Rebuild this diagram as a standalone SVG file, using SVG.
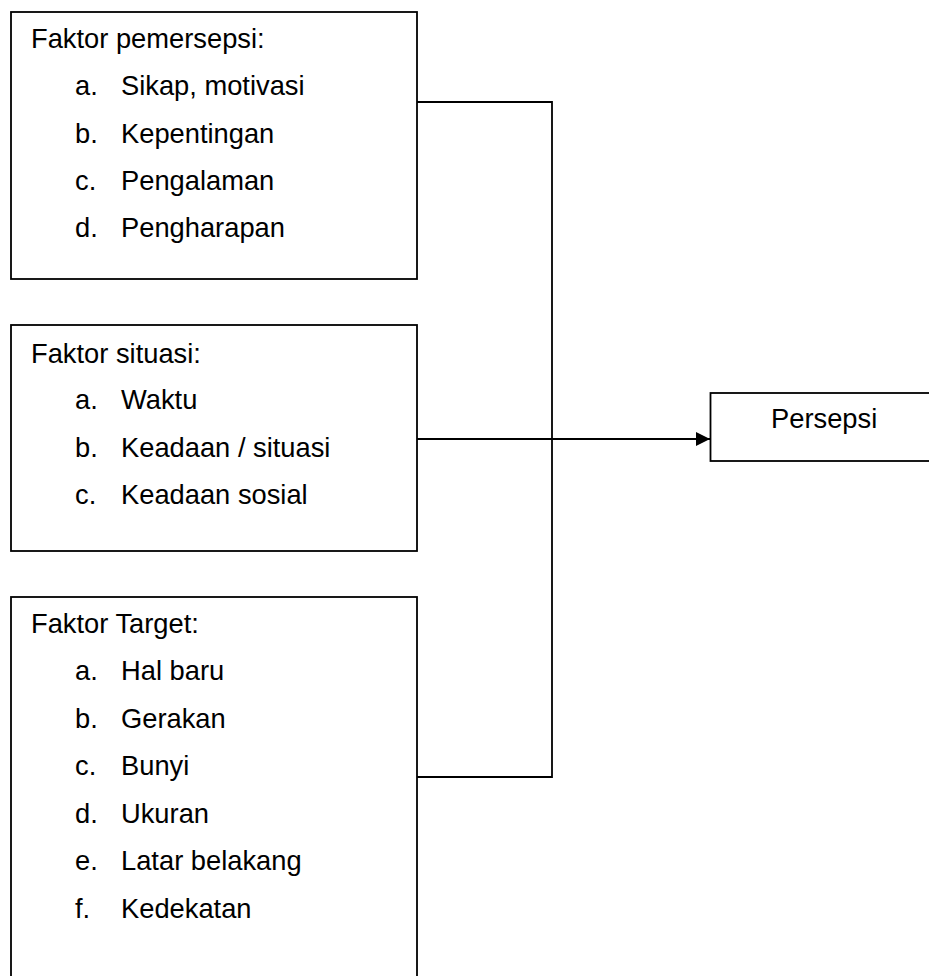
<svg xmlns="http://www.w3.org/2000/svg" width="929" height="976" viewBox="0 0 929 976">
<style>
.box{fill:#fff;stroke:#000;stroke-width:1.8}
.t{font-family:"Liberation Sans",Arial,sans-serif;font-size:27.3px;fill:#000}
.c{fill:none;stroke:#000;stroke-width:1.8}
</style>
<defs>
<marker id="arr" markerWidth="14" markerHeight="14" refX="14" refY="7" orient="auto" markerUnits="userSpaceOnUse">
<path d="M0,0 L14,7 L0,14 Z" fill="#000"/>
</marker>
</defs>
<rect width="929" height="976" fill="#fff"/>
<g id="connectors">
<polyline class="c" points="417,102 552,102 552,777 417,777"/>
<line class="c" x1="417" y1="439" x2="710" y2="439" marker-end="url(#arr)"/>
</g>
<g id="pemersepsi">
<rect class="box" x="11" y="12" width="406" height="267"/>
<text class="t" x="31" y="48">Faktor pemersepsi:</text>
<text class="t" x="75" y="95">a.</text><text class="t" x="121" y="95">Sikap, motivasi</text>
<text class="t" x="75" y="143">b.</text><text class="t" x="121" y="143">Kepentingan</text>
<text class="t" x="75" y="190">c.</text><text class="t" x="121" y="190">Pengalaman</text>
<text class="t" x="75" y="237">d.</text><text class="t" x="121" y="237">Pengharapan</text>
</g>
<g id="situasi">
<rect class="box" x="11" y="325" width="406" height="226"/>
<text class="t" x="31" y="363">Faktor situasi:</text>
<text class="t" x="75" y="409">a.</text><text class="t" x="121" y="409">Waktu</text>
<text class="t" x="75" y="457">b.</text><text class="t" x="121" y="457">Keadaan / situasi</text>
<text class="t" x="75" y="504">c.</text><text class="t" x="121" y="504">Keadaan sosial</text>
</g>
<g id="target">
<rect class="box" x="11" y="597" width="406" height="420"/>
<text class="t" x="31" y="633">Faktor Target:</text>
<text class="t" x="75" y="680">a.</text><text class="t" x="121" y="680">Hal baru</text>
<text class="t" x="75" y="728">b.</text><text class="t" x="121" y="728">Gerakan</text>
<text class="t" x="75" y="775">c.</text><text class="t" x="121" y="775">Bunyi</text>
<text class="t" x="75" y="823">d.</text><text class="t" x="121" y="823">Ukuran</text>
<text class="t" x="75" y="870">e.</text><text class="t" x="121" y="870">Latar belakang</text>
<text class="t" x="75" y="918">f.</text><text class="t" x="121" y="918">Kedekatan</text>
</g>
<g id="persepsi">
<rect class="box" x="710.5" y="393" width="240" height="68"/>
<text class="t" x="771" y="428">Persepsi</text>
</g>
</svg>
